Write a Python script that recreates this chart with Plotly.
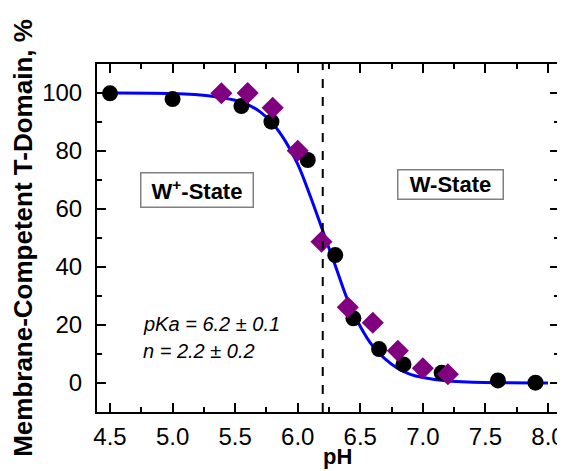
import plotly.graph_objects as go

# Black circles (series 1)
circ_ph = [4.5, 5.0, 5.55, 5.79, 6.08, 6.30, 6.445, 6.65, 6.845, 7.15, 7.6, 7.9]
circ_val = [99.9, 97.9, 95.5, 90.1, 76.9, 44.1, 22.3, 11.7, 6.4, 3.5, 0.9, 0.1]

# Purple diamonds (series 2)
diam_ph = [5.39, 5.60, 5.80, 6.00, 6.19, 6.40, 6.60, 6.80, 7.00, 7.20]
diam_val = [99.9, 100.0, 94.9, 80.1, 48.7, 26.1, 20.8, 11.1, 5.1, 3.0]

# Fitted curve
curve_ph = [4.5, 5.0, 5.3, 5.5, 5.6, 5.7, 5.8, 5.9, 6.0, 6.1, 6.2, 6.3, 6.4,
            6.5, 6.6, 6.7, 6.8, 6.9, 7.0, 7.2, 7.4, 7.6, 8.0]
curve_val = [100, 99.8, 99.0, 97.5, 96.0, 93.5, 89.5, 83.5, 75.5, 64.5, 52.5,
             40.5, 28.5, 19.5, 12.7, 8.2, 5.0, 3.0, 1.9, 0.7, 0.3, 0.1, 0.0]

pka_line = 6.2
x_ticks = [4.5, 5.0, 5.5, 6.0, 6.5, 7.0, 7.5, 8.0]
x_tick_text = ["4.5", "5.0", "5.5", "6.0", "6.5", "7.0", "7.5", "8.0"]
y_ticks = [0, 20, 40, 60, 80, 100]

FONT = "Arial, Liberation Sans, sans-serif"

fig = go.Figure()
fig.add_trace(go.Scatter(x=curve_ph, y=curve_val, mode="lines",
                         line=dict(color="#0000ff", width=3, shape="spline"),
                         hoverinfo="skip", showlegend=False))
fig.add_trace(go.Scatter(x=circ_ph, y=circ_val, mode="markers",
                         marker=dict(symbol="circle", size=16, color="black"),
                         showlegend=False))
fig.add_trace(go.Scatter(x=diam_ph, y=diam_val, mode="markers",
                         marker=dict(symbol="diamond", size=17, color="#800080"),
                         showlegend=False))

fig.add_shape(type="line", x0=pka_line, x1=pka_line, y0=-10, y1=110,
              xref="x", yref="y", line=dict(color="black", width=2, dash="dash"))

fig.add_annotation(x=5.195, y=66.7, xref="x", yref="y",
                   text="<b>W<sup>+</sup>-State</b>", showarrow=False,
                   font=dict(family=FONT, size=22, color="black"),
                   bordercolor="#808080", borderwidth=1.5, bgcolor="white",
                   width=109, height=31, borderpad=1)
fig.add_annotation(x=7.222, y=68.6, xref="x", yref="y",
                   text="<b>W-State</b>", showarrow=False,
                   font=dict(family=FONT, size=22, color="black"),
                   bordercolor="#808080", borderwidth=1.5, bgcolor="white",
                   width=102, height=26, borderpad=1)
fig.add_annotation(x=4.75, y=20.2, xref="x", yref="y", xanchor="left",
                   text="<i>pKa = 6.2 ± 0.1</i>", showarrow=False,
                   font=dict(family=FONT, size=20, color="black"))
fig.add_annotation(x=4.75, y=11.1, xref="x", yref="y", xanchor="left",
                   text="<i>n = 2.2 ± 0.2</i>", showarrow=False,
                   font=dict(family=FONT, size=20, color="black"))

# x-axis title placed just below the tick labels (paper coords of plot area)
fig.add_annotation(x=0.52, y=-0.128, xref="paper", yref="paper",
                   xanchor="center", yanchor="middle", showarrow=False,
                   text="<b>pH</b>", font=dict(family=FONT, size=22, color="black"))

fig.update_xaxes(range=[4.396, 8.088], tickmode="array", tickvals=x_ticks,
                 ticktext=x_tick_text, ticks="inside", ticklen=9, tickwidth=2,
                 tickcolor="black", showline=True, linecolor="black", linewidth=2,
                 mirror="ticks", showgrid=False, zeroline=False, automargin=False,
                 ticklabelstandoff=2,
                 tickfont=dict(family=FONT, size=24, color="black"),
                 minor=dict(dtick=0.25, tick0=4.25, ticks="inside", ticklen=5,
                            tickwidth=2, tickcolor="black", showgrid=False))
fig.update_yaxes(range=[-10, 110], tickmode="array", tickvals=y_ticks,
                 ticks="inside", ticklen=9, tickwidth=2, tickcolor="black",
                 showline=True, linecolor="black", linewidth=2, mirror="ticks",
                 showgrid=False, zeroline=False, automargin=False,
                 ticklabelstandoff=8,
                 tickfont=dict(family=FONT, size=24, color="black"),
                 minor=dict(dtick=10, tick0=-10, ticks="inside", ticklen=5,
                            tickwidth=2, tickcolor="black", showgrid=False),
                 title=dict(text="<b>Membrane-Competent T-Domain, %</b>",
                            font=dict(family=FONT, size=26, color="black")))

# page body adds an 8px offset; margins compensate so the plot area matches
fig.update_layout(width=565, height=471, margin=dict(l=89, r=14, t=56, b=67),
                  plot_bgcolor="white", paper_bgcolor="white")

fig.write_html("out.html")
